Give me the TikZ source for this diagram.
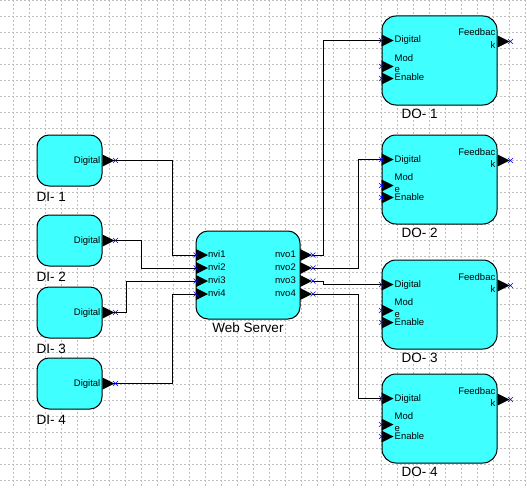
\documentclass[tikz,border=0pt]{standalone}
\usepackage{fontspec}
\setmainfont{Liberation Sans}
\usetikzlibrary{backgrounds}
\definecolor{cyanfill}{HTML}{40FFFF}
\tikzset{
  blk/.style={draw, line width=1pt, fill=cyanfill, rounded corners=12pt, inner sep=0pt},
  plbl/.style={font=\fontsize{9.5}{10}\selectfont, inner sep=0pt, text height=7pt, text depth=2pt},
  blkname/.style={font=\fontsize{13.5}{14}\selectfont, inner sep=0pt, text height=10pt, text depth=0pt, anchor=north west},
  wire/.style={line width=1pt},
  raster/.style={black!25, line width=0.8pt, dash pattern=on 2pt off 2pt},
  xmark/.style={blue, line width=0.6pt},
  pics/inport/.style={code={
    \fill (0,-6) -- (12,0) -- (0,6) -- cycle;
    \draw[xmark] (-2.5,-2.5) -- (2.5,2.5) (-2.5,2.5) -- (2.5,-2.5);}},
  pics/outport/.style={code={
    \fill (0,-6) -- (12,0) -- (0,6) -- cycle;
    \draw[xmark] (10.5,-2.5) -- (15.5,2.5) (10.5,2.5) -- (15.5,-2.5);}},
}

\begin{document}
\begin{tikzpicture}[x=1pt, y=-1pt]
    \useasboundingbox (0,0) rectangle (527,487);
    % dotted raster
    \begin{scope}[on background layer]
      \fill[white] (0,0) rectangle (527,487);
      \foreach \gx in {13,29,...,525} \draw[raster] (\gx,0) -- (\gx,487);
      \foreach \gy in {0,16,...,486} \draw[raster] (0,\gy) -- (527,\gy);
    \end{scope}

    % digital inputs
    \foreach \i/\y in {1/160.5,2/240.5,3/312.5,4/383.5}{
      \node[blk, minimum width=65pt, minimum height=51pt] (di\i) at (69.5,\y) {};
      \node[plbl, anchor=east] at ([xshift=-2pt]di\i.east) {Digital};
      \pic at (di\i.east) {outport};
      \coordinate (di\i-o) at ([xshift=11pt]di\i.east);
      \node[blkname] at ([yshift=-5pt]di\i.south west) {DI- \i};
    }

    % web server
    \node[blk, minimum width=104pt, minimum height=88pt] (ws) at (248,275) {};
    \node[blkname, anchor=north] at ([yshift=-3pt]ws.south) {Web Server};
    \foreach \k in {1,...,4}{
      \coordinate (ws-i\k) at (196,242+13*\k);
      \coordinate (ws-b\k) at (300,242+13*\k);
      \coordinate (ws-o\k) at (312,242+13*\k);
      \pic at (ws-i\k) {inport};
      \pic at (ws-b\k) {outport};
      \node[plbl, anchor=west] at ([xshift=12pt]ws-i\k) {nvi\k};
      \node[plbl, anchor=east] at ([xshift=-4pt]ws-b\k) {nvo\k};
    }

    % digital outputs
    \foreach \i/\y in {1/60.5,2/179.5,3/304.5,4/418.5}{
      \node[blk, rounded corners=14pt, minimum width=115pt, minimum height=89pt] (do\i) at (439.5,\y) {};
      \coordinate (do\i-d) at ([yshift=-25pt]do\i.north west);
      \pic at (do\i-d) {inport};
      \pic at ([yshift=-51pt]do\i.north west) {inport};
      \pic at ([yshift=-63pt]do\i.north west) {inport};
      \pic at ([yshift=-26pt]do\i.north east) {outport};
      \node[plbl, anchor=west] at ([xshift=13pt]do\i-d) {Digital};
      \node[plbl, anchor=west] at ([xshift=13pt, yshift=-43pt]do\i.north west) {Mod};
      \node[plbl, anchor=west] at ([xshift=13pt, yshift=-55pt]do\i.north west) {e};
      \node[plbl, anchor=west] at ([xshift=13pt, yshift=-63pt]do\i.north west) {Enable};
      \node[plbl, anchor=east] at ([xshift=-2pt, yshift=-18pt]do\i.north east) {Feedbac};
      \node[plbl, anchor=east] at ([xshift=-2pt, yshift=-30.5pt]do\i.north east) {k};
      \node[blkname] at ([xshift=20pt, yshift=-3pt]do\i.south west) {DO- \i};
    }

    % wiring
    \begin{scope}[on background layer]
      \draw[wire] (di1-o) -- ++(59,0) |- (ws-i1);
      \draw[wire] (di2-o) -- ++(28,0) |- (ws-i2);
      \draw[wire] (di3-o) -- ++(13,0) |- (ws-i3);
      \draw[wire] (di4-o) -- ++(59,0) |- (ws-i4);
      \draw[wire] (ws-o1) -- ++(11,0) |- (do1-d);
      \draw[wire] (ws-o2) -- ++(46,0) |- (do2-d);
      \draw[wire] (ws-o3) -- ++(11,0) |- (do3-d);
      \draw[wire] (ws-o4) -- ++(46,0) |- (do4-d);
    \end{scope}
\end{tikzpicture}
\end{document}
